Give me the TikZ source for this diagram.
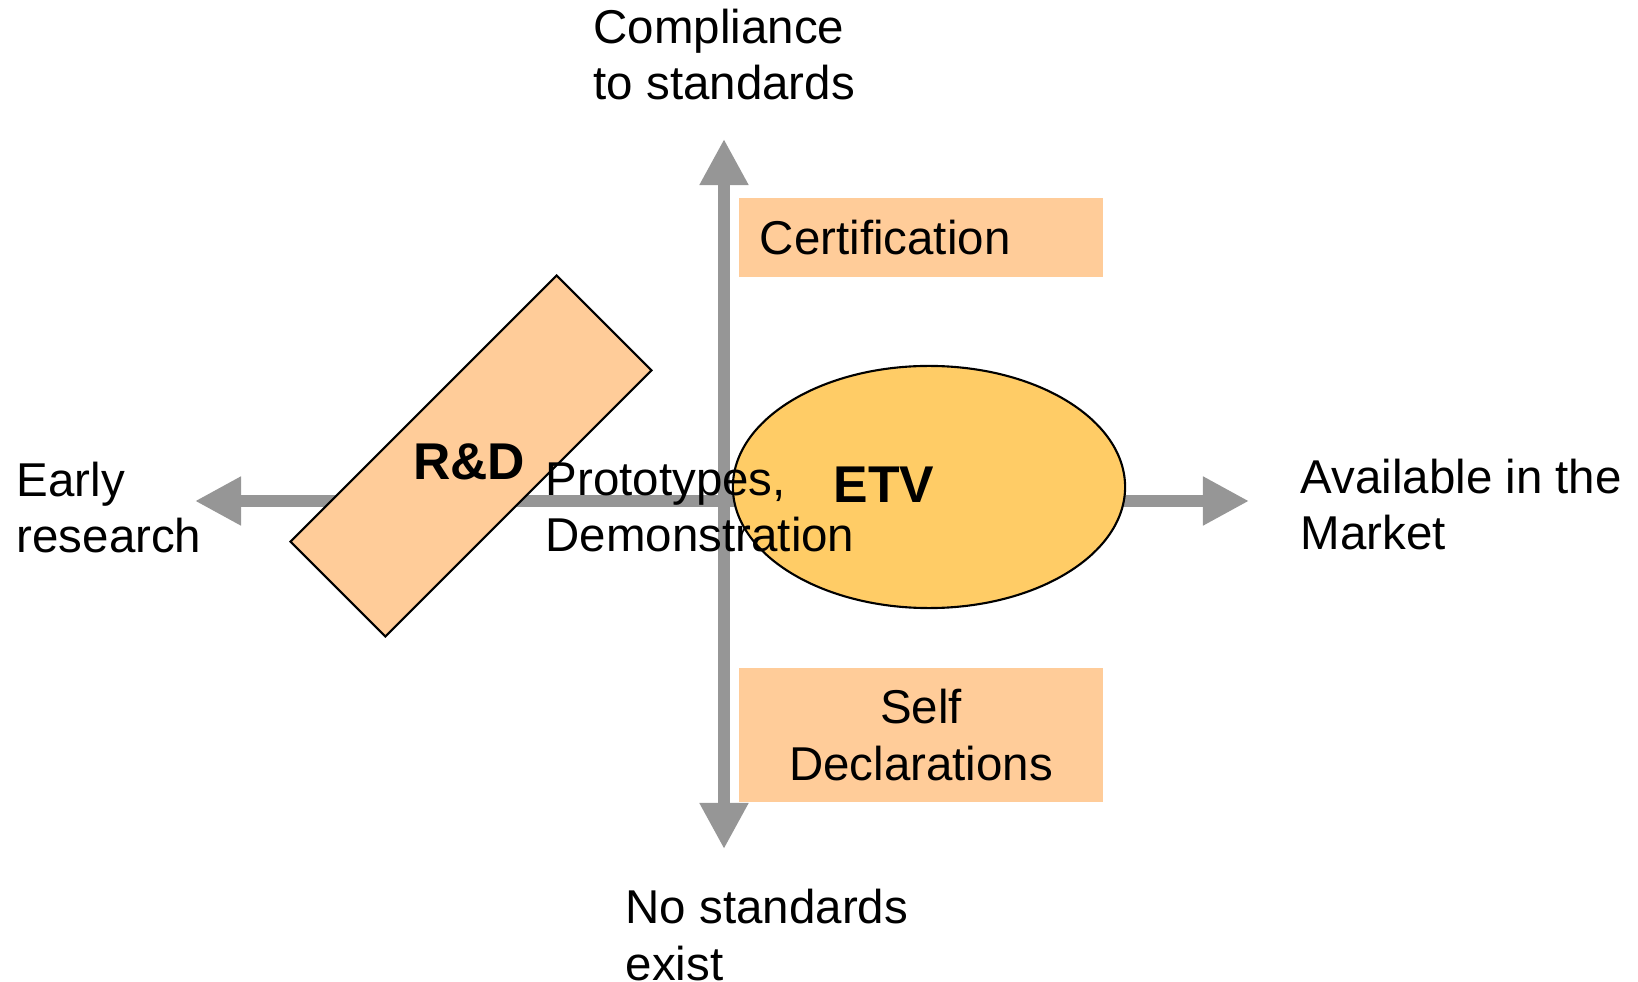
\documentclass[tikz,border=0pt]{standalone}
\usepackage{fontspec}
\setmainfont{Liberation Sans}
\usetikzlibrary{arrows.meta,shapes.geometric}
\definecolor{axisgray}{HTML}{969696}
\definecolor{peach}{HTML}{FFCC99}
\definecolor{amber}{HTML}{FFCC66}
\begin{document}
\begin{tikzpicture}[x=0.01cm, y=-0.01cm,
  arrowaxis/.style={draw=axisgray, line width=0.11cm,
    {Triangle[length=0.46cm,width=0.46cm]}-{Triangle[length=0.46cm,width=0.46cm]}},
  txt/.style={inner sep=0pt, anchor=base west, align=left,
    font=\fontsize{13.5}{16}\selectfont},
  bold/.style={inner sep=0pt, font=\fontsize{14.7}{17}\selectfont\bfseries},
  tag/.style={fill=peach, inner ysep=0pt, font=\fontsize{13.5}{16}\selectfont}]
  \useasboundingbox (0,0) rectangle (1638,982);

  \coordinate (lefttip) at (195,501);
  \coordinate (righttip) at (1249,501);
  \coordinate (toptip) at (724,139);
  \coordinate (bottomtip) at (724,849);
  \draw[arrowaxis] (lefttip) -- (righttip);
  \draw[arrowaxis] (bottomtip) -- (toptip);

  \node[draw, fill=peach, line width=0.6pt, rotate=45,
    minimum width=3.76cm, minimum height=1.34cm] (rd) at (471,456) {};
  \node[draw, fill=amber, ellipse, line width=0.6pt, inner sep=0pt,
    minimum width=3.92cm, minimum height=2.42cm] (etv) at (929,487) {};
  \node[tag, text width=3.22cm, inner xsep=0.21cm, align=left,
    minimum height=0.79cm] (cert) at (921,237.5) {Certification};
  \node[tag, align=center, minimum width=3.64cm,
    minimum height=1.34cm] (selfdecl) at (921,735) {Self\\Declarations};

  % base anchor of a two-line node sits on its last line
  \node[txt] (compliance) at (593,100) {Compliance\\to standards};
  \node[txt] (early) at (16,553) {Early\\research};
  \node[txt] (market) at (1300,550) {Available in the\\Market};
  \node[txt] (nostd) at (625,980) {No standards\\exist};
  \node[txt] (proto) at (545,552) {Prototypes,\\Demonstration};
  \node[bold, anchor=base] (rdlabel) at (469,480) {R\&D};
  \node[bold, anchor=base west] (etvlabel) at (833,503) {ETV};
\end{tikzpicture}
\end{document}
